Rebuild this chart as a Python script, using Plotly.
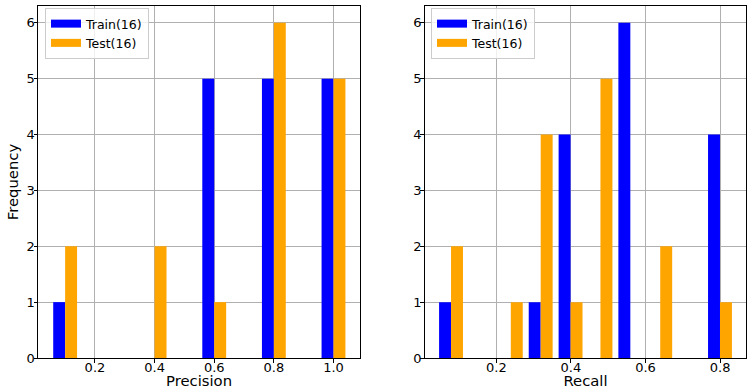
import plotly.graph_objects as go

# ---- data ----
precision_bin_centers = [0.1, 0.2, 0.3, 0.4, 0.5, 0.6, 0.7, 0.8, 0.9, 1.0]
precision_bin_width = 0.1
precision_train = [1, 0, 0, 0, 0, 5, 0, 5, 0, 5]
precision_test = [2, 0, 0, 2, 0, 1, 0, 6, 0, 5]

recall_bin_centers = [0.0786, 0.1587, 0.2388, 0.3189, 0.3990, 0.4791, 0.5592, 0.6393, 0.7194, 0.7995]
recall_bin_width = 0.0801
recall_train = [1, 0, 0, 1, 4, 0, 6, 0, 0, 4]
recall_test = [2, 0, 1, 4, 1, 5, 0, 2, 0, 1]

series_names = ["Train(16)", "Test(16)"]
series_colors = ["#0000ff", "#ffa500"]

FONT = "DejaVu Sans"
TICK_SIZE = 13
LEGEND_SIZE = 12.5
TITLE_SIZE = 14.8

fig = go.Figure()

panels = [
    ("x", "y", "legend", precision_bin_centers, precision_bin_width, [precision_train, precision_test]),
    ("x2", "y2", "legend2", recall_bin_centers, recall_bin_width, [recall_train, recall_test]),
]

for xa, ya, lg, centers, bw, series in panels:
    for i, (name, color, vals) in enumerate(zip(series_names, series_colors, series)):
        fig.add_trace(go.Bar(
            x=centers, y=vals, xaxis=xa, yaxis=ya,
            width=0.4 * bw, offset=(-0.4 * bw if i == 0 else 0.0),
            marker=dict(color=color, line=dict(width=0)),
            name=name, showlegend=False, hoverinfo="x+y",
        ))
    for name, color in zip(series_names, series_colors):
        fig.add_trace(go.Scatter(
            x=[None], y=[None], xaxis=xa, yaxis=ya, mode="lines",
            line=dict(color=color, width=8), name=name, legend=lg, showlegend=True,
        ))

axis_common = dict(
    showgrid=True, gridcolor="#b0b0b0", gridwidth=0.8,
    showline=True, linecolor="black", linewidth=1, mirror=True,
    ticks="outside", ticklen=3.5, tickwidth=0.8, tickcolor="black",
    tickfont=dict(family=FONT, size=TICK_SIZE, color="black"),
    zeroline=False, layer="above traces", automargin=False,
)

legend_common = dict(
    xanchor="left", yanchor="top",
    bgcolor="rgba(255,255,255,0.8)", bordercolor="#cccccc", borderwidth=1,
    font=dict(family=FONT, size=LEGEND_SIZE), itemwidth=30, tracegroupgap=0,
)

fig.update_layout(
    width=747, height=389,
    margin=dict(l=38, r=0, t=6, b=31),
    paper_bgcolor="white", plot_bgcolor="white",
    barmode="overlay",
    font=dict(family=FONT, size=TICK_SIZE, color="black"),
    xaxis=dict(domain=[0, 0.4542], range=[0.009, 1.089], tickvals=[0.2, 0.4, 0.6, 0.8, 1.0],
               ticktext=["0.2", "0.4", "0.6", "0.8", "1.0"], ticklabelstandoff=-6,
               title=dict(text="Precision", font=dict(family=FONT, size=TITLE_SIZE), standoff=6), **axis_common),
    yaxis=dict(domain=[0, 1], range=[0, 6.3], tickvals=[0, 1, 2, 3, 4, 5, 6], ticklabelstandoff=-4,
               title=dict(text="Frequency", font=dict(family=FONT, size=TITLE_SIZE), standoff=4), **axis_common),
    xaxis2=dict(domain=[0.5454, 0.999], range=[0.008, 0.870], tickvals=[0.2, 0.4, 0.6, 0.8],
                ticktext=["0.2", "0.4", "0.6", "0.8"], anchor="y2", ticklabelstandoff=-6,
                title=dict(text="Recall", font=dict(family=FONT, size=TITLE_SIZE), standoff=6), **axis_common),
    yaxis2=dict(domain=[0, 1], range=[0, 6.3], tickvals=[0, 1, 2, 3, 4, 5, 6], anchor="x2",
                ticklabelstandoff=-4, **axis_common),
    legend=dict(x=(45 - 38) / 709, y=1 - (8 - 6) / 352, **legend_common),
    legend2=dict(x=(431 - 38) / 709, y=1 - (8 - 6) / 352, **legend_common),
)

fig.write_html("out.html", config={"displayModeBar": False},
               post_script="document.body.style.margin='0';")
